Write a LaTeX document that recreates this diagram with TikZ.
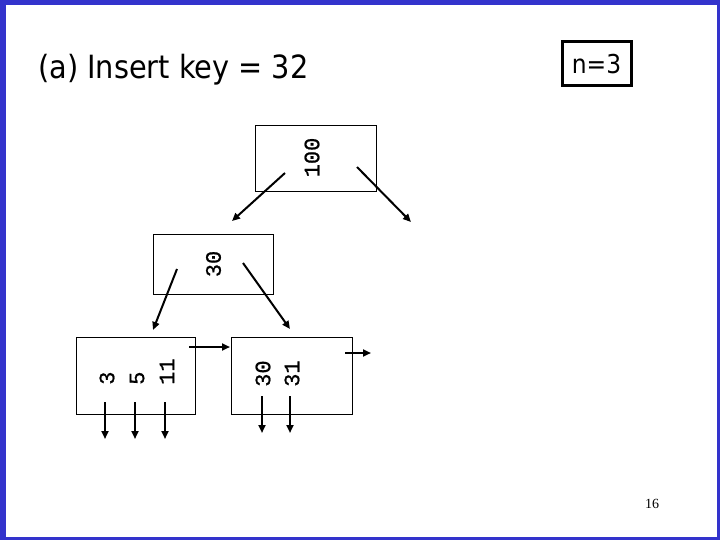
\documentclass[tikz,border=0pt]{standalone}
\usepackage{fontspec}
\setmainfont{DejaVu Sans}
\newfontfamily\titlefont{DejaVu Sans Condensed}
\newfontfamily\keyfont[FakeBold=0.8]{Liberation Mono}
\newfontfamily\pagefont{Liberation Serif}
\usetikzlibrary{arrows.meta}
\definecolor{frameblue}{RGB}{51,51,204}
\begin{document}
\begin{tikzpicture}[x=1pt,y=-1pt,
  treebox/.style={draw=black,line width=1pt,inner sep=0pt,anchor=center},
  keytext/.style={font=\keyfont\fontsize{22}{22}\selectfont,inner sep=0pt,rotate=90},
  ptr/.style={line width=2pt,-{Triangle[length=8pt,width=7pt]}}]
\useasboundingbox (0,0) rectangle (720,540);
\fill[frameblue] (0,0) rectangle (720,540);
\fill[white] (6,5) rectangle (717,537);
% title and n=3
\node[font=\titlefont\fontsize{32}{32}\selectfont,anchor=base west,inner sep=0pt] (title) at (38,79) {(a) Insert key = 32};
\node[draw=black,line width=3pt,minimum width=69pt,minimum height=44pt,inner sep=0pt,font=\titlefont\fontsize{26}{26}\selectfont] (nbox) at (596.5,64) {n=3};
% boxes
\node[treebox,minimum width=121pt,minimum height=66pt] (b100) at (315.5,159) {};
\node[treebox,minimum width=120pt,minimum height=60pt] (b30) at (213,264) {};
\node[treebox,minimum width=119pt,minimum height=77pt] (leafA) at (135.5,375.5) {};
\node[treebox,minimum width=121pt,minimum height=77pt] (leafB) at (291.5,375.5) {};
% keys
\node[keytext] (k100) at (312,157.5) {100};
\node[keytext] (k30) at (213.5,264) {30};
\node[keytext,anchor=west] (kA1) at (107,385) {3};
\node[keytext,anchor=west] (kA2) at (137,385) {5};
\node[keytext,anchor=west] (kA3) at (167,385) {11};
\node[keytext,anchor=west] (kB1) at (263,387) {30};
\node[keytext,anchor=west] (kB2) at (292,387) {31};
% pointer coordinates
\coordinate (s100L) at (285,173);
\coordinate (e100L) at (232,221);
\coordinate (s100R) at (357,167);
\coordinate (e100R) at (411,222);
\coordinate (s30L) at (177,269);
\coordinate (e30L) at (153,330);
\coordinate (s30R) at (243,263);
\coordinate (e30R) at (290,329);
\coordinate (sA1) at (105,402); \coordinate (eA1) at (105,439);
\coordinate (sA2) at (135,402); \coordinate (eA2) at (135,439);
\coordinate (sA3) at (165,402); \coordinate (eA3) at (165,439);
\coordinate (sB1) at (262,396); \coordinate (eB1) at (262,433);
\coordinate (sB2) at (290,396); \coordinate (eB2) at (290,433);
\coordinate (sAn) at (189,347); \coordinate (eAn) at (230,347);
\coordinate (sBn) at (345,353); \coordinate (eBn) at (371,353);
\draw[ptr] (s100L) -- (e100L);
\draw[ptr] (s100R) -- (e100R);
\draw[ptr] (s30L) -- (e30L);
\draw[ptr] (s30R) -- (e30R);
\draw[ptr] (sA1) -- (eA1);
\draw[ptr] (sA2) -- (eA2);
\draw[ptr] (sA3) -- (eA3);
\draw[ptr] (sB1) -- (eB1);
\draw[ptr] (sB2) -- (eB2);
\draw[ptr] (sAn) -- (eAn);
\draw[ptr] (sBn) -- (eBn);
% page number
\node[font=\pagefont\fontsize{14}{14}\selectfont,inner sep=0pt] (pnum) at (652,504) {16};
\end{tikzpicture}
\end{document}
